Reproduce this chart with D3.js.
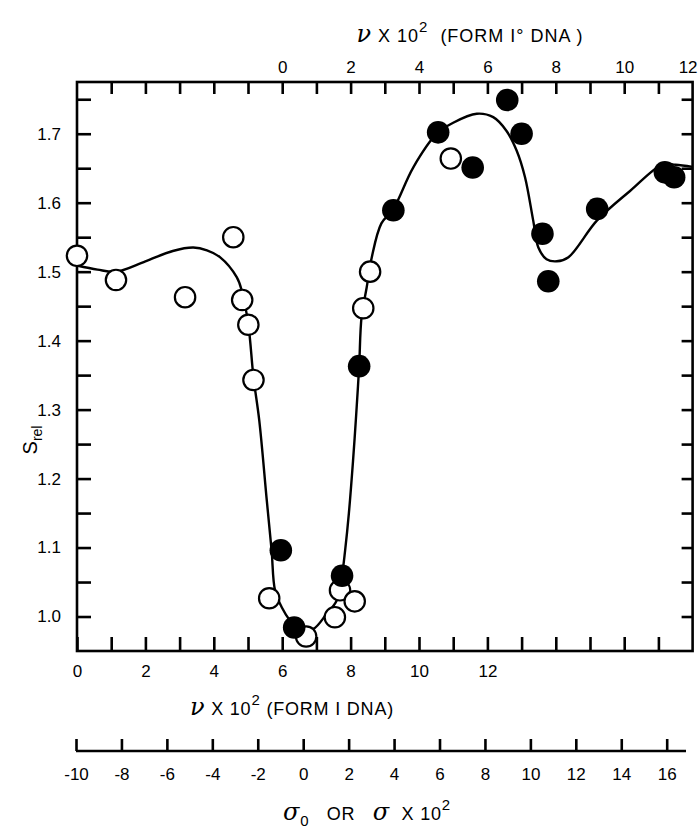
<!DOCTYPE html>
<html>
<head>
<meta charset="utf-8">
<script src="https://cdn.jsdelivr.net/npm/d3@7/dist/d3.min.js"></script>
<style>
  html, body { margin: 0; padding: 0; background: #fff; }
  svg { display: block; }
  text { font-family: "Liberation Sans", Arial, sans-serif; fill: #000; }
</style>
</head>
<body>
<svg id="chart" width="700" height="829"></svg>
<script>
// ---- data ----
const openX = [0, 1.14, 3.16, 4.57, 4.83, 5.01, 5.16, 5.62, 6.70, 7.54, 7.69, 8.12, 8.37, 8.57, 10.93];
const openY = [1.523, 1.488, 1.463, 1.550, 1.459, 1.423, 1.343, 1.0265, 0.971, 0.999, 1.038, 1.022, 1.447, 1.500, 1.664];

const filledX = [5.96, 6.35, 7.75, 8.25, 9.25, 10.56, 11.57, 12.58, 13.00, 13.61, 13.78, 15.21, 17.19, 17.46];
const filledY = [1.096, 0.984, 1.059, 1.363, 1.589, 1.702, 1.651, 1.749, 1.700, 1.555, 1.486, 1.591, 1.644, 1.637];

const curveX = [0, 0.6, 1.14, 2.0, 2.8, 3.4, 3.8, 4.18, 4.67, 4.82, 5.01, 5.16, 5.33, 5.55, 5.69, 5.79, 5.99, 6.23, 6.52, 6.91, 7.30, 7.59, 7.74, 7.84, 7.95, 8.07, 8.16, 8.25, 8.32, 8.47, 8.62, 8.9, 9.25, 9.83, 10.52, 11.0, 11.69, 12.17, 12.56, 12.86, 13.10, 13.34, 13.49, 13.73, 14.03, 14.37, 15.20, 16.17, 17.14, 17.5, 18];
const curveY = [1.509, 1.503, 1.500, 1.515, 1.530, 1.535, 1.531, 1.521, 1.492, 1.472, 1.423, 1.347, 1.284, 1.168, 1.096, 1.038, 1.013, 0.994, 0.980, 0.982, 1.004, 1.023, 1.057, 1.096, 1.150, 1.225, 1.290, 1.363, 1.434, 1.477, 1.521, 1.570, 1.591, 1.651, 1.700, 1.716, 1.729, 1.724, 1.704, 1.675, 1.637, 1.574, 1.535, 1.518, 1.515, 1.521, 1.574, 1.617, 1.656, 1.655, 1.652];

const yTicks = [1.0, 1.05, 1.1, 1.15, 1.2, 1.25, 1.3, 1.35, 1.4, 1.45, 1.5, 1.55, 1.6, 1.65, 1.7, 1.75];
const yLabels = [1.0, 1.1, 1.2, 1.3, 1.4, 1.5, 1.6, 1.7];
const bottomTicks = [0, 1, 2, 3, 4, 5, 6, 7, 8, 9, 10, 11, 12, 13, 14, 15, 16, 17];
const bottomLabels = [0, 2, 4, 6, 8, 10, 12];
const topTicks = [-5, -4, -3, -2, -1, 0, 1, 2, 3, 4, 5, 6, 7, 8, 9, 10, 11];
const topLabels = [0, 2, 4, 6, 8, 10, 12];
const sigmaTicks = [-10, -8, -6, -4, -2, 0, 2, 4, 6, 8, 10, 12, 14, 16];

// ---- layout ----
const svg = d3.select("#chart");
const L = 77, R = 692.6, T = 82, B = 651;
const x = d3.scaleLinear().domain([0, 18]).range([L, R]);
const xTop = d3.scaleLinear().domain([-6, 12]).range([L, R]);
const y = d3.scaleLinear().domain([0.95, 1.775]).range([B, T]);
const xs = d3.scaleLinear().domain([-10, 16]).range([76, 666.7]);
const sigmaY = 751;

const fmtY = d => yLabels.some(v => Math.abs(v - d) < 1e-6) ? d3.format(".1f")(d) : "";

function styleAxis(g) {
  g.select(".domain").remove();
  g.selectAll(".tick line").attr("stroke", "#000").attr("stroke-width", 2.6);
  g.selectAll(".tick text").attr("font-size", 17).attr("fill", "#000")
    .style("font-family", '"Liberation Sans", Arial, sans-serif');
}

// left axis
svg.append("g").attr("transform", `translate(${L},0)`)
  .call(d3.axisLeft(y).tickValues(yTicks).tickFormat(fmtY).tickSizeInner(-14).tickSizeOuter(0).tickPadding(16))
  .call(styleAxis);
// right axis
svg.append("g").attr("transform", `translate(${R},0)`)
  .call(d3.axisRight(y).tickValues(yTicks).tickFormat("").tickSizeInner(-11).tickSizeOuter(0))
  .call(styleAxis);
// bottom axis
svg.append("g").attr("transform", `translate(0,${B})`)
  .call(d3.axisBottom(x).tickValues(bottomTicks)
    .tickFormat(d => bottomLabels.includes(d) ? String(d) : "")
    .tickSizeInner(-14).tickSizeOuter(0).tickPadding(14))
  .call(styleAxis);
// top axis: ticks
svg.append("g").attr("transform", `translate(0,${T})`)
  .call(d3.axisTop(xTop).tickValues(topTicks).tickFormat("")
    .tickSizeInner(-12).tickSizeOuter(0))
  .call(styleAxis);
// top axis: labels
const tl = svg.append("g").attr("transform", `translate(0,${T})`)
  .call(d3.axisTop(xTop).tickValues(topLabels).tickFormat(d => String(d))
    .tickSizeInner(0).tickSizeOuter(0).tickPadding(9))
  .call(styleAxis);
tl.selectAll(".tick text").attr("dx", d => d === 12 ? -5 : 0);

// sigma axis
const sg = svg.append("g").attr("transform", `translate(0,${sigmaY})`)
  .call(d3.axisBottom(xs).tickValues(sigmaTicks).tickFormat(d => String(d))
    .tickSizeInner(-12).tickSizeOuter(0).tickPadding(17))
  .call(styleAxis);
sg.append("line").attr("x1", 76).attr("x2", 686).attr("y1", 0).attr("y2", 0)
  .attr("stroke", "#000").attr("stroke-width", 2.6);

// frame
svg.append("rect").attr("x", L).attr("y", T).attr("width", R - L).attr("height", B - T)
  .attr("fill", "none").attr("stroke", "#000").attr("stroke-width", 2.6);

// curve
const pts = curveX.map((v, i) => [v, curveY[i]]);
const line = d3.line().x(d => x(d[0])).y(d => y(d[1])).curve(d3.curveCatmullRom.alpha(0.5));
svg.append("path").attr("d", line(pts)).attr("fill", "none")
  .attr("stroke", "#000").attr("stroke-width", 2.4).attr("stroke-linejoin", "round");

// open circles
svg.append("g").selectAll("circle").data(openX.map((v, i) => [v, openY[i]])).join("circle")
  .attr("cx", d => x(d[0])).attr("cy", d => y(d[1])).attr("r", 10.2)
  .attr("fill", "#fff").attr("stroke", "#000").attr("stroke-width", 2.2);
// filled circles
svg.append("g").selectAll("circle").data(filledX.map((v, i) => [v, filledY[i]])).join("circle")
  .attr("cx", d => x(d[0])).attr("cy", d => y(d[1])).attr("r", 11.3)
  .attr("fill", "#000");

// labels
const nu = '<tspan font-family="DejaVu Serif, serif" font-style="italic" font-size="24">ν</tspan>';
svg.append("text").attr("x", 470).attr("y", 42).attr("text-anchor", "middle").attr("font-size", 18)
  .attr("letter-spacing", 1).attr("xml:space", "preserve")
  .html(`${nu} X 10<tspan dy="-10" font-size="15">2</tspan><tspan dy="10">  (FORM I° DNA )</tspan>`);
svg.append("text").attr("x", 292).attr("y", 715).attr("text-anchor", "middle").attr("font-size", 18)
  .attr("letter-spacing", 0.8).attr("xml:space", "preserve")
  .html(`${nu} X 10<tspan dy="-10" font-size="15">2</tspan><tspan dy="10"> (FORM I DNA)</tspan>`);
svg.append("text").attr("x", 367).attr("y", 820).attr("text-anchor", "middle").attr("font-size", 18)
  .attr("xml:space", "preserve").attr("letter-spacing", 0.8)
  .html(`<tspan font-family="DejaVu Serif, serif" font-style="italic" font-size="24">σ</tspan><tspan dy="6" font-size="15">0</tspan><tspan dy="-6">   OR   </tspan><tspan font-family="DejaVu Serif, serif" font-style="italic" font-size="24">σ</tspan>  X 10<tspan dy="-10" font-size="15">2</tspan>`);
svg.append("text").attr("transform", "translate(37,440) rotate(-90)").attr("text-anchor", "middle")
  .attr("font-size", 20)
  .html(`S<tspan dy="5" font-size="14">rel</tspan>`);
</script>
</body>
</html>
